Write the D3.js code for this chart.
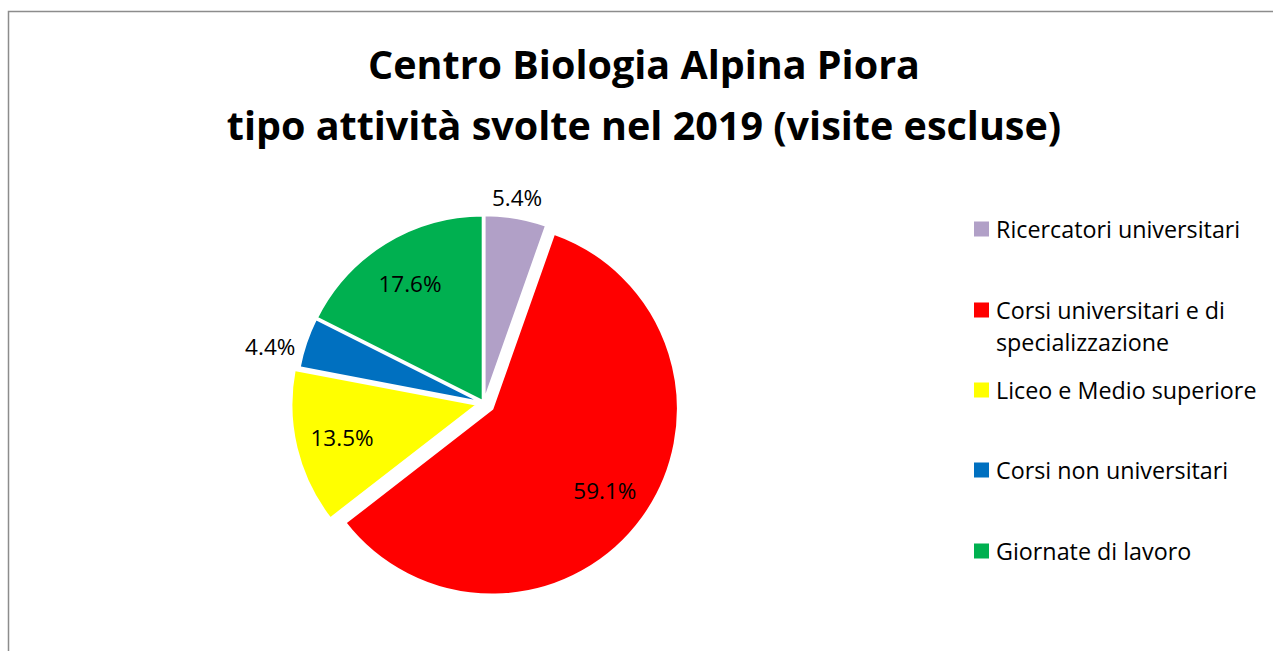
<!DOCTYPE html>
<html>
<head>
<meta charset="utf-8">
<script src="https://cdn.jsdelivr.net/npm/d3@7"></script>
<style>
  body { margin: 0; background: #fff; }
  #chart { width: 1273px; height: 651px; }
  text { font-family: "Open Sans", "Noto Sans", sans-serif; fill: #000; }
</style>
</head>
<body>
<div id="chart"></div>
<script>
var categories = ["Ricercatori universitari", "Corsi universitari e di specializzazione",
  "Liceo e Medio superiore", "Corsi non universitari", "Giornate di lavoro"];
var legendLines = [["Ricercatori universitari"], ["Corsi universitari e di", "specializzazione"],
  ["Liceo e Medio superiore"], ["Corsi non universitari"], ["Giornate di lavoro"]];
var values = [5.4, 59.1, 13.5, 4.4, 17.6];
var colors = ["#B1A0C7", "#FF0000", "#FFFF00", "#0070C0", "#00B050"];
var explode = [2, 10, 7, 2, 2];
var labelOutside = [true, false, false, true, false];
var titleLines = ["Centro Biologia Alpina Piora", "tipo attività svolte nel 2019 (visite escluse)"];

var width = 1273, height = 651;
var svg = d3.select("#chart").append("svg")
  .attr("width", width)
  .attr("height", height);

// chart border (runs off the right and bottom edges)
svg.append("rect")
  .attr("x", 8.5).attr("y", 11.5)
  .attr("width", 1300).attr("height", 700)
  .attr("fill", "#fff")
  .attr("stroke", "#8c8c8c")
  .attr("stroke-width", 1.5);

svg.selectAll(".title")
  .data(titleLines)
  .enter().append("text")
  .attr("class", "title")
  .attr("x", 644)
  .attr("y", function(d, i) { return 79 + i * 61; })
  .attr("text-anchor", "middle")
  .attr("font-size", 39.5)
  .attr("font-weight", "bold")
  .text(function(d) { return d; });

var cx = 484, cy = 403, r = 186;
var data = values.map(function(v, i) { return {name: categories[i], value: v, i: i}; });

var pie = d3.pie().sort(null).value(function(d) { return d.value; });
var arcs = pie(data);
var arc = d3.arc().innerRadius(0).outerRadius(r);

var g = svg.append("g").attr("transform", "translate(" + cx + "," + cy + ")");

function mid(d) { return (d.startAngle + d.endAngle) / 2; }

var slices = g.selectAll(".slice")
  .data(arcs)
  .enter().append("g")
  .attr("class", "slice")
  .attr("transform", function(d) {
    var a = mid(d), e = explode[d.data.i];
    return "translate(" + (Math.sin(a) * e) + "," + (-Math.cos(a) * e) + ")";
  });

slices.append("path")
  .attr("d", arc)
  .attr("fill", function(d) { return colors[d.data.i]; })
  .attr("stroke", "#fff")
  .attr("stroke-width", 2.5)
  .attr("stroke-linejoin", "round");

// inside labels
var inner = d3.arc().innerRadius(139).outerRadius(139);
slices.filter(function(d) { return !labelOutside[d.data.i]; })
  .append("text")
  .attr("transform", function(d) { return "translate(" + inner.centroid(d) + ")"; })
  .attr("text-anchor", "middle")
  .attr("dominant-baseline", "central")
  .attr("font-size", 22.5)
  .text(function(d) { return d.data.value.toFixed(1) + "%"; });

// outside labels
slices.filter(function(d) { return labelOutside[d.data.i]; })
  .append("text")
  .attr("font-size", 22.5)
  .attr("dominant-baseline", "central")
  .text(function(d) { return d.data.value.toFixed(1) + "%"; })
  .attr("text-anchor", function(d) {
    var ux = Math.sin(mid(d));
    return Math.abs(ux) > 0.7 ? (ux < 0 ? "end" : "start") : "middle";
  })
  .attr("transform", function(d) {
    var a = mid(d), ux = Math.sin(a), uy = -Math.cos(a);
    var px = ux * (r + 8), py = uy * (r + 8);
    if (Math.abs(ux) > 0.7) return "translate(" + (px - 3) + "," + (py + 6) + ")";
    return "translate(" + px + "," + (py - 12) + ")";
  });

// legend
var legendY = [229, 310, 390, 470, 551];
var legend = svg.selectAll(".legend")
  .data(legendLines)
  .enter().append("g")
  .attr("class", "legend")
  .attr("transform", function(d, i) { return "translate(974," + legendY[i] + ")"; });

legend.append("rect")
  .attr("x", 0).attr("y", -7.5)
  .attr("width", 15).attr("height", 15)
  .attr("fill", function(d, i) { return colors[i]; });

legend.selectAll("text")
  .data(function(d) { return d; })
  .enter().append("text")
  .attr("x", 22)
  .attr("y", function(d, j) { return j * 32; })
  .attr("dominant-baseline", "central")
  .attr("font-size", 23.3)
  .text(function(d) { return d; });
</script>
</body>
</html>
